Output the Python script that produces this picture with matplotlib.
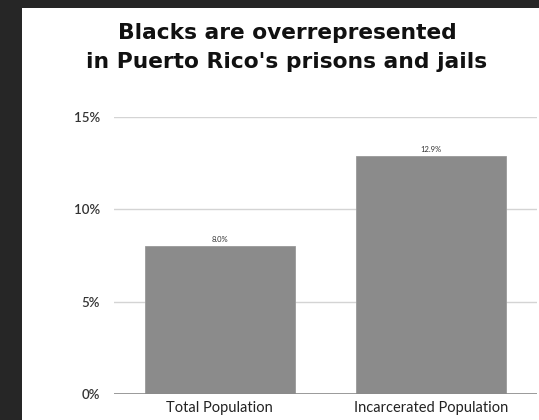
import matplotlib
matplotlib.use('Agg')
import matplotlib.pyplot as plt
from matplotlib.patches import Rectangle

# data
categories = ['Total Population', 'Incarcerated Population']
values = [8.0, 12.9]
value_labels = ['8.0%', '12.9%']
y_ticks = [0, 5, 10, 15]
y_tick_labels = ['0%', '5%', '10%', '15%']
title_lines = ['Blacks are overrepresented', "in Puerto Rico's prisons and jails"]

plt.rcParams['font.family'] = ['Lato', 'DejaVu Sans']

W, H = 539, 420
fig = plt.figure(figsize=(W / 100, H / 100), dpi=100)
fig.patch.set_facecolor('#262626')

# white panel inside the dark frame
fig.add_artist(Rectangle((22 / W, 0), 1 - 22 / W, (H - 8) / H,
                         transform=fig.transFigure, facecolor='white',
                         edgecolor='none', zorder=0))

ax = fig.add_axes([114 / W, (H - 394) / H, (537 - 114) / W, (394 - 117) / H])
ax.set_facecolor('none')

x = list(range(len(categories)))
ax.bar(x, values, width=0.71, color='#8b8b8b', edgecolor='#9a9a9a',
       linewidth=0.6, zorder=2)
for xi, v, lab in zip(x, values, value_labels):
    ax.text(xi, v + 0.15, lab, ha='center', va='bottom', fontsize=5.5,
            color='#333333', zorder=3)

ax.set_xlim(-0.5, 1.5)
ax.set_ylim(0, 15)
ax.set_yticks(y_ticks)
ax.set_yticklabels(y_tick_labels, fontsize=9.5, color='#333333',
                   fontweight='semibold')
ax.set_xticks(x)
ax.set_xticklabels(categories, fontsize=10.5, color='#222222')
ax.tick_params(axis='both', length=0)
ax.tick_params(axis='y', pad=10)
ax.tick_params(axis='x', pad=5)

ax.grid(axis='y', color='#d4d4d4', linewidth=1.0, zorder=1)
ax.axhline(0, color='#8a8a8a', linewidth=1.2, zorder=3)
for s in ax.spines.values():
    s.set_visible(False)

for i, line in enumerate(title_lines):
    fig.text(287 / W, 1 - (39 + 29 * i) / H, line, ha='center', va='baseline',
             fontsize=15.7, fontweight='bold', color='#111111',
             family=['DejaVu Sans'])

fig.savefig('out.png', dpi=100, facecolor=fig.get_facecolor())
